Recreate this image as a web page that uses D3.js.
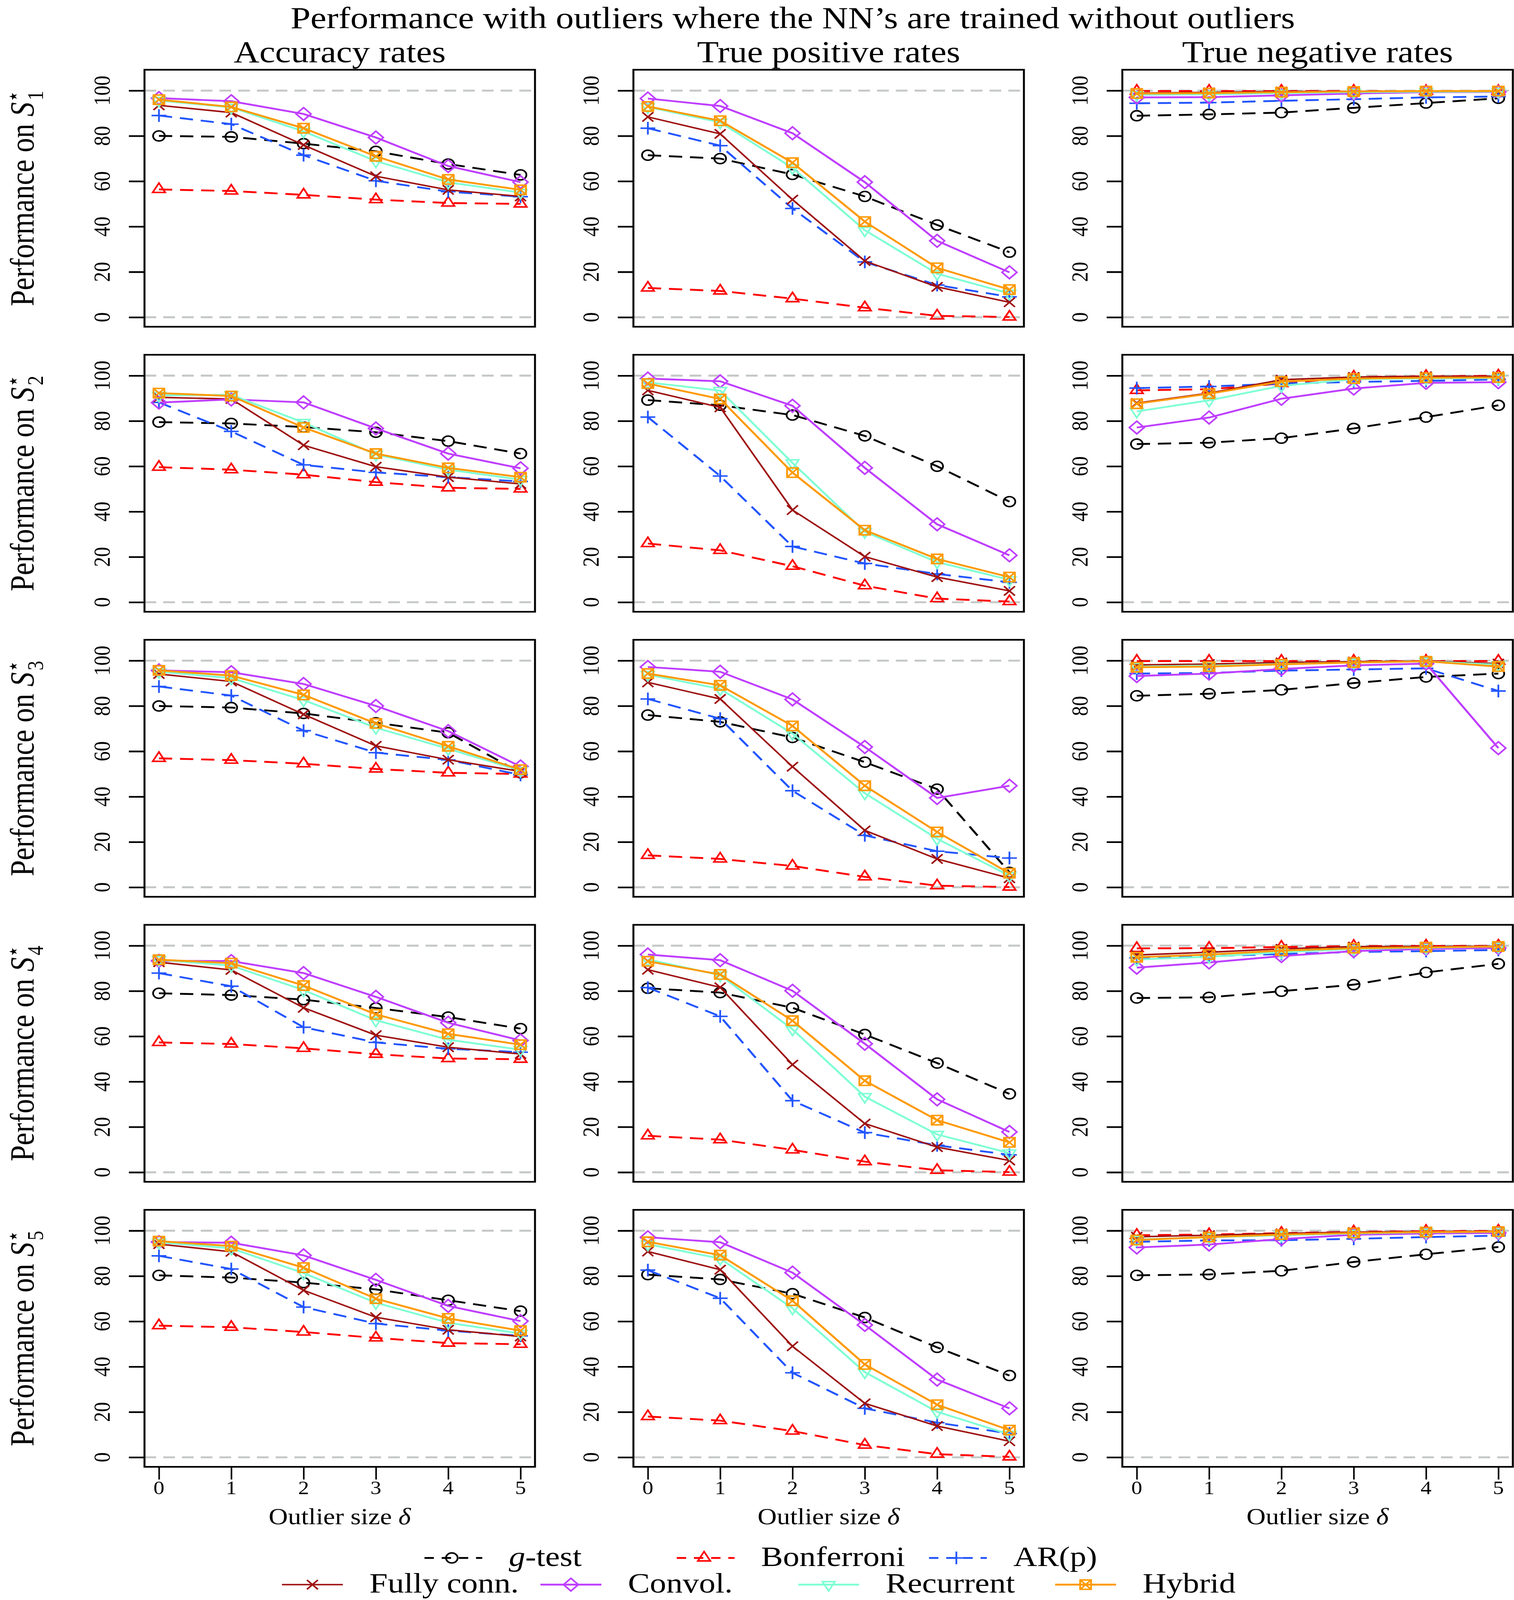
<!DOCTYPE html>
<html>
<head>
<meta charset="utf-8">
<script src="https://d3js.org/d3.v7.min.js"></script>
<style>
    html, body { margin: 0; padding: 0; background: #ffffff; overflow: hidden; }
    #chart { display: block; font-family: "Liberation Serif", "DejaVu Serif", serif; }
</style>
</head>
<body>
<svg id="chart" viewBox="0 0 3877 4794" preserveAspectRatio="none"></svg>
<script>
    // values, series order: g-test, Bonferroni, AR(p), Fully conn., Convol., Recurrent, Hybrid
    const outlierSizes = [0, 1, 2, 3, 4, 5];
    const yTickValues = [0, 20, 40, 60, 80, 100];
    const methodNames = ["g-test", "Bonferroni", "AR(p)", "Fully conn.", "Convol.", "Recurrent", "Hybrid"];
    const columnTitles = ["Accuracy rates", "True positive rates", "True negative rates"];
    const setLabels = ["1", "2", "3", "4", "5"];

    const accS1 = [
        [80.0, 79.6, 76.6, 73.2, 67.6, 62.8],
        [56.4, 55.7, 54.0, 51.9, 50.4, 50.0],
        [89.0, 85.2, 71.5, 60.2, 55.4, 53.2],
        [93.5, 90.3, 76.0, 62.2, 56.2, 53.3],
        [96.7, 95.3, 89.7, 79.3, 66.7, 59.6],
        [95.6, 92.6, 82.0, 68.9, 59.5, 55.0],
        [96.0, 92.8, 83.4, 71.0, 60.8, 56.2]
    ];
    const tprS1 = [
        [71.5, 70.0, 63.0, 53.3, 40.7, 28.7],
        [12.9, 11.6, 8.2, 4.2, 0.6, 0.1],
        [83.4, 75.7, 48.0, 24.4, 14.2, 9.0],
        [88.4, 80.9, 51.9, 24.8, 13.4, 6.6],
        [96.5, 93.2, 81.2, 59.6, 33.7, 19.8],
        [92.8, 86.0, 65.9, 38.4, 19.2, 10.5],
        [93.0, 86.7, 68.2, 42.2, 21.8, 12.2]
    ];
    const tnrS1 = [
        [88.9, 89.5, 90.3, 92.4, 94.5, 96.6],
        [99.8, 99.8, 99.8, 99.8, 99.7, 99.7],
        [94.4, 94.7, 95.5, 96.2, 97.0, 97.4],
        [98.9, 99.2, 99.6, 99.7, 99.7, 99.7],
        [97.0, 97.1, 97.9, 98.7, 99.3, 99.4],
        [98.2, 98.4, 98.9, 99.3, 99.5, 99.6],
        [98.7, 98.9, 99.3, 99.6, 99.8, 99.8]
    ];

    const accS2 = [
        [79.5, 78.9, 77.3, 75.0, 71.1, 65.6],
        [59.6, 58.5, 56.3, 53.0, 50.5, 50.0],
        [88.2, 75.4, 60.6, 57.3, 55.2, 53.3],
        [90.4, 89.7, 69.3, 59.8, 55.2, 52.2],
        [88.1, 89.5, 88.2, 76.7, 65.6, 59.1],
        [91.3, 91.5, 79.3, 65.2, 58.5, 54.1],
        [92.3, 91.0, 77.1, 65.6, 59.3, 55.2]
    ];
    const tprS2 = [
        [89.2, 86.9, 82.6, 73.4, 60.0, 44.4],
        [25.9, 22.9, 15.9, 7.3, 1.6, 0.3],
        [81.7, 55.7, 24.6, 17.1, 12.5, 8.8],
        [93.5, 86.0, 40.7, 20.1, 11.1, 5.0],
        [98.7, 97.5, 86.7, 59.3, 34.4, 20.7],
        [97.0, 93.4, 61.5, 31.1, 17.7, 9.9],
        [96.5, 89.7, 57.2, 31.8, 19.1, 11.1]
    ];
    const tnrS2 = [
        [69.8, 70.4, 72.4, 76.7, 81.7, 86.9],
        [93.5, 94.0, 96.5, 99.4, 99.7, 99.9],
        [94.5, 95.2, 96.5, 97.2, 97.7, 98.3],
        [87.9, 92.3, 98.2, 99.4, 99.7, 99.7],
        [77.1, 81.5, 89.8, 94.3, 96.8, 97.1],
        [84.2, 89.1, 95.5, 98.4, 98.8, 98.9],
        [87.6, 92.0, 97.4, 98.7, 99.1, 99.2]
    ];

    const accS3 = [
        [80.0, 79.3, 76.7, 72.6, 68.2, 50.5],
        [56.9, 56.1, 54.5, 52.2, 50.5, 50.0],
        [88.6, 84.6, 69.1, 59.4, 56.2, 49.6],
        [94.1, 90.8, 76.3, 62.4, 56.3, 51.1],
        [95.7, 94.9, 89.7, 80.0, 68.9, 53.3],
        [95.1, 92.3, 82.6, 70.4, 61.1, 51.5],
        [95.7, 93.4, 84.9, 72.3, 62.2, 51.9]
    ];
    const tprS3 = [
        [76.0, 73.0, 66.1, 55.2, 43.3, 6.6],
        [14.1, 12.5, 9.4, 4.6, 0.7, 0.1],
        [83.1, 74.4, 42.6, 22.9, 15.9, 12.9],
        [90.4, 83.1, 53.2, 25.1, 12.5, 4.0],
        [97.2, 95.1, 82.9, 61.9, 39.4, 44.8],
        [93.8, 87.5, 67.8, 41.5, 21.4, 5.1],
        [94.3, 89.1, 71.2, 44.8, 24.4, 6.2]
    ];
    const tnrS3 = [
        [84.5, 85.4, 87.1, 90.1, 92.8, 94.3],
        [99.8, 99.8, 99.8, 99.8, 99.8, 99.8],
        [94.3, 94.6, 95.6, 96.1, 96.6, 86.6],
        [98.1, 98.5, 99.2, 99.6, 99.8, 98.7],
        [93.2, 94.3, 96.3, 97.9, 98.7, 61.4],
        [97.4, 97.8, 98.5, 99.2, 99.7, 98.2],
        [97.1, 97.4, 98.4, 99.2, 99.7, 97.4]
    ];

    const accS4 = [
        [79.0, 78.2, 76.2, 72.5, 68.5, 63.4],
        [57.3, 56.6, 54.7, 52.1, 50.2, 49.9],
        [87.9, 82.1, 64.0, 57.3, 54.5, 53.0],
        [92.7, 89.3, 72.6, 60.5, 55.2, 52.2],
        [93.3, 93.2, 87.9, 77.4, 66.0, 58.2],
        [93.8, 91.2, 80.4, 67.1, 58.5, 54.1],
        [93.8, 92.3, 82.4, 69.7, 61.1, 56.3]
    ];
    const tprS4 = [
        [81.2, 79.3, 72.6, 60.8, 48.2, 34.6],
        [16.1, 14.4, 9.9, 4.7, 0.9, 0.1],
        [81.5, 68.8, 31.6, 17.5, 11.9, 7.7],
        [89.4, 81.6, 47.5, 21.5, 11.1, 5.2],
        [96.1, 93.6, 80.1, 56.7, 32.2, 17.8],
        [93.9, 87.0, 63.1, 33.4, 16.7, 8.5],
        [93.1, 87.3, 66.9, 40.4, 23.0, 13.2]
    ];
    const tnrS4 = [
        [76.9, 77.2, 79.9, 82.8, 88.2, 92.0],
        [98.8, 98.9, 99.4, 99.8, 99.9, 99.9],
        [94.6, 95.4, 96.3, 97.2, 97.6, 98.1],
        [95.9, 97.1, 98.6, 99.6, 99.6, 99.8],
        [90.3, 92.6, 95.4, 97.6, 98.6, 99.0],
        [93.9, 95.1, 97.1, 98.6, 99.1, 99.6],
        [94.9, 96.1, 97.8, 98.9, 99.3, 99.6]
    ];

    const accS5 = [
        [80.3, 79.3, 77.1, 74.1, 69.3, 64.5],
        [58.1, 57.4, 55.3, 52.7, 50.4, 49.9],
        [88.9, 83.1, 66.3, 59.0, 55.9, 53.6],
        [94.1, 90.7, 73.7, 61.8, 56.3, 53.3],
        [95.0, 94.7, 89.1, 78.3, 66.8, 60.1],
        [94.9, 92.2, 81.3, 68.2, 59.4, 54.6],
        [95.4, 93.2, 83.7, 70.0, 61.3, 55.9]
    ];
    const tprS5 = [
        [80.6, 78.5, 72.2, 61.7, 48.5, 36.1],
        [18.0, 16.2, 11.6, 5.4, 1.4, 0.2],
        [82.6, 70.2, 37.3, 21.6, 15.3, 10.5],
        [90.8, 82.8, 49.0, 23.8, 13.8, 7.1],
        [97.1, 94.9, 81.5, 58.4, 34.3, 21.6],
        [94.0, 87.7, 65.8, 37.6, 20.1, 10.1],
        [95.1, 89.2, 69.1, 41.0, 23.2, 12.0]
    ];
    const tnrS5 = [
        [80.3, 80.7, 82.3, 86.2, 89.6, 92.8],
        [98.0, 98.3, 98.9, 99.5, 99.8, 99.9],
        [95.1, 95.7, 95.8, 96.4, 97.2, 97.8],
        [97.3, 98.0, 98.8, 99.4, 99.6, 99.8],
        [92.6, 93.9, 96.3, 98.2, 98.8, 99.0],
        [96.1, 97.1, 98.0, 98.8, 99.3, 99.5],
        [95.9, 97.2, 98.3, 99.0, 99.4, 99.6]
    ];

    const panelRows = [
        [accS1, tprS1, tnrS1],
        [accS2, tprS2, tnrS2],
        [accS3, tprS3, tnrS3],
        [accS4, tprS4, tnrS4],
        [accS5, tprS5, tnrS5]
    ];

    // styles
    const colors = ["#000000", "#ff0000", "#2255ff", "#9e1111", "#bf3eff", "#7fffd4", "#ff9900"];
    const dashed = [true, true, true, false, false, false, false];
    const markers = ["circle", "triUp", "plus", "cross", "diamond", "triDown", "squareX"];

    const colLeft = [370, 1622, 2874];
    const panelWidth = 1000;
    const panelHeight = 770;
    const rowTop = i => 209 + 854 * i;

    const x = d3.scaleLinear().domain([-0.2, 5.2]).range([0, panelWidth]);
    const y = d3.scaleLinear().domain([-4.2, 109.2]).range([panelHeight, 0]);

    function markerPath(kind) {
        switch (kind) {
            case "circle": return "M-15,0a15,15 0 1,0 30,0a15,15 0 1,0 -30,0";
            case "triUp": return "M0,-19L16,9L-16,9Z";
            case "triDown": return "M0,19L16,-9L-16,-9Z";
            case "plus": return "M-19,0H19M0,-19V19";
            case "cross": return "M-14,-14L14,14M-14,14L14,-14";
            case "diamond": return "M0,-19L19,0L0,19L-19,0Z";
            case "squareX": return "M-14,-14H14V14H-14ZM-14,-14L14,14M-14,14L14,-14";
        }
    }

    // the window can come out shorter than 4794, so stretch the 3877x4794 drawing to fill it
    const svg = d3.select("#chart")
        .attr("width", window.innerWidth)
        .attr("height", window.innerHeight);
    const line = d3.line().x((d, i) => x(outlierSizes[i])).y(d => y(d));

    svg.append("text")
        .attr("x", 2030).attr("y", 84)
        .attr("text-anchor", "middle")
        .attr("font-size", 92)
        .text("Performance with outliers where the NN\u2019s are trained without outliers");

    columnTitles.forEach((t, c) => {
        svg.append("text")
            .attr("x", colLeft[c] + panelWidth / 2).attr("y", 186)
            .attr("text-anchor", "middle")
            .attr("font-size", 91)
            .text(t);
    });

    panelRows.forEach((row, r) => {
        // y label
        const lab = svg.append("text")
            .attr("transform", `translate(86, ${rowTop(r) + panelHeight / 2}) rotate(-90)`)
            .attr("text-anchor", "middle")
            .attr("font-size", 86);
        lab.append("tspan").text("Performance on ");
        lab.append("tspan").attr("font-style", "italic").text("S");
        lab.append("tspan").attr("font-size", 56).attr("dy", -34).attr("font-family", "DejaVu Serif").text("\u22c6");
        lab.append("tspan").attr("font-size", 58).attr("dx", -30).attr("dy", 58).text(setLabels[r]);

        row.forEach((panel, c) => {
            const g = svg.append("g").attr("transform", `translate(${colLeft[c]}, ${rowTop(r)})`);

            // reference lines at 0 and 100
            g.selectAll("line.ref").data([0, 100]).join("line")
                .attr("x1", 0).attr("x2", panelWidth)
                .attr("y1", d => y(d)).attr("y2", d => y(d))
                .attr("stroke", "#c5c9c6").attr("stroke-width", 6)
                .attr("stroke-dasharray", "30,18");

            panel.forEach((vals, s) => {
                g.append("path")
                    .attr("d", line(vals))
                    .attr("fill", "none")
                    .attr("stroke", colors[s])
                    .attr("stroke-width", s === 3 ? 4.5 : 5.5)
                    .attr("stroke-dasharray", dashed[s] ? "34,20" : null);
                g.selectAll(null).data(vals).join("path")
                    .attr("transform", (d, i) => `translate(${x(outlierSizes[i])}, ${y(d)})`)
                    .attr("d", markerPath(markers[s]))
                    .attr("fill", "none")
                    .attr("stroke", colors[s])
                    .attr("stroke-width", 4.5);
            });

            g.append("rect")
                .attr("width", panelWidth).attr("height", panelHeight)
                .attr("fill", "none").attr("stroke", "#000").attr("stroke-width", 5);

            // y axis
            const yAxis = g.append("g").call(d3.axisLeft(y).tickValues(yTickValues).tickSize(40).tickFormat(""));
            yAxis.select(".domain").remove();
            yAxis.selectAll("line").attr("stroke-width", 5);
            g.selectAll("text.ytick").data(yTickValues).join("text")
                .attr("class", "ytick")
                .attr("transform", d => `translate(-89, ${y(d)}) rotate(-90)`)
                .attr("text-anchor", "middle")
                .attr("font-size", 60)
                .text(d => d);

            if (r === panelRows.length - 1) {
                const xAxis = g.append("g")
                    .attr("transform", `translate(0, ${panelHeight})`)
                    .call(d3.axisBottom(x).tickValues(outlierSizes).tickSize(38).tickFormat(""));
                xAxis.select(".domain").remove();
                xAxis.selectAll("line").attr("stroke-width", 4);
                g.selectAll("text.xtick").data(outlierSizes).join("text")
                    .attr("class", "xtick")
                    .attr("x", d => x(d)).attr("y", panelHeight + 82)
                    .attr("text-anchor", "middle")
                    .attr("font-size", 56)
                    .text(d => d);
                const xl = g.append("text")
                    .attr("x", panelWidth / 2).attr("y", panelHeight + 172)
                    .attr("text-anchor", "middle")
                    .attr("font-size", 68);
                xl.append("tspan").text("Outlier size ");
                xl.append("tspan").attr("font-style", "italic").text("\u03b4");
            }
        });
    });

    // legend
    const legendPos = [
        [1157, 4668], [1803, 4668], [2449, 4668],
        [800, 4748], [1462, 4748], [2122, 4748], [2780, 4748]
    ];
    methodNames.forEach((name, s) => {
        const [cx, cy] = legendPos[s];
        const lg = svg.append("g").attr("transform", `translate(${cx}, ${cy})`);
        lg.append("line")
            .attr("x1", -78).attr("x2", 78)
            .attr("stroke", colors[s])
            .attr("stroke-width", s === 3 ? 4.5 : 5.5)
            .attr("stroke-dasharray", dashed[s] ? "24,20" : null)
            .attr("stroke-dashoffset", dashed[s] ? -8 : null);
        lg.append("path")
            .attr("d", markerPath(markers[s]))
            .attr("fill", "none").attr("stroke", colors[s]).attr("stroke-width", 4.5);
        const t = lg.append("text")
            .attr("x", 146).attr("y", 24)
            .attr("font-size", 84);
        if (name === "g-test") {
            t.append("tspan").attr("font-style", "italic").text("g");
            t.append("tspan").text("-test");
        } else {
            t.text(name);
        }
    });
</script>
</body>
</html>
